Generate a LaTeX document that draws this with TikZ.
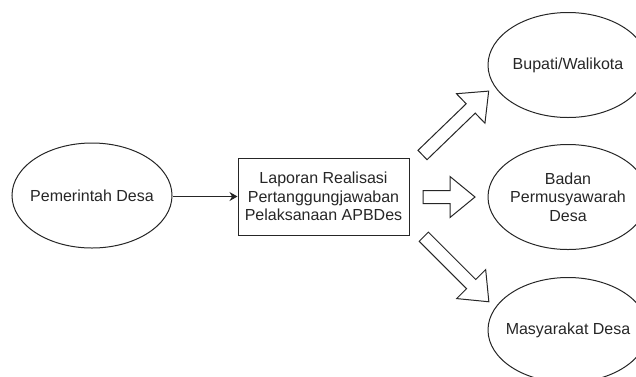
\documentclass[tikz,border=0pt]{standalone}
\usepackage{fontspec}
\setmainfont{Liberation Sans}
\usetikzlibrary{shapes.geometric,arrows.meta}

\tikzset{
  lbl/.style={font=\fontsize{16}{18.5}\selectfont, text=black!85, align=center},
  actor/.style={draw=black!85, line width=1pt, ellipse, inner sep=0pt,
                minimum width=160pt, minimum height=105pt,
                label={[lbl]center:#1}},
  report/.style={lbl, draw=black!85, line width=1pt, rectangle, inner sep=0pt,
                 minimum width=171pt, minimum height=77pt},
  flow/.style={draw=black!85, line width=1pt, -{Stealth[length=8pt,width=9pt]}},
  hollow/.style={draw=black!85, line width=1pt, fill=white, line join=miter}
}

% hollow block arrow: #1 tail point, #2 direction angle, #3 length
\newcommand\hollowarrow[3]{%
  \begin{scope}[shift={(#1)}, rotate=#2]
    \draw[hollow] (0,-6.5) -- (#3-25,-6.5) -- (#3-25,-20.5) -- (#3,0)
      -- (#3-25,20.5) -- (#3-25,6.5) -- (0,6.5) -- cycle;
  \end{scope}}

\begin{document}
\begin{tikzpicture}[x=1pt, y=-1pt]
  \useasboundingbox (0,0) rectangle (636,376);

  \node[actor={Pemerintah Desa}] (pemdes) at (92,195.5) {};
  \node[report] (lap) at (323.5,196.5)
        {Laporan Realisasi\\Pertanggungjawaban\\Pelaksanaan APBDes};
  \node[actor={Bupati/Walikota}] (bup) at (568,65) {};
  \node[actor={Badan\\Permusyawarah\\Desa}] (bpd) at (568,197) {};
  \node[actor={Masyarakat Desa}] (mas) at (568,330) {};

  \draw[flow] (pemdes.east |- lap.west) -- (lap.west);

  % tails of the block arrows leaving the report
  \coordinate (u1) at (422.5,155);
  \coordinate (u2) at (423,197);
  \coordinate (u3) at (423.8,236.7);

  \hollowarrow{u1}{44}{92}
  \hollowarrow{u2}{0}{52}
  \hollowarrow{u3}{-45}{92}
\end{tikzpicture}
\end{document}
